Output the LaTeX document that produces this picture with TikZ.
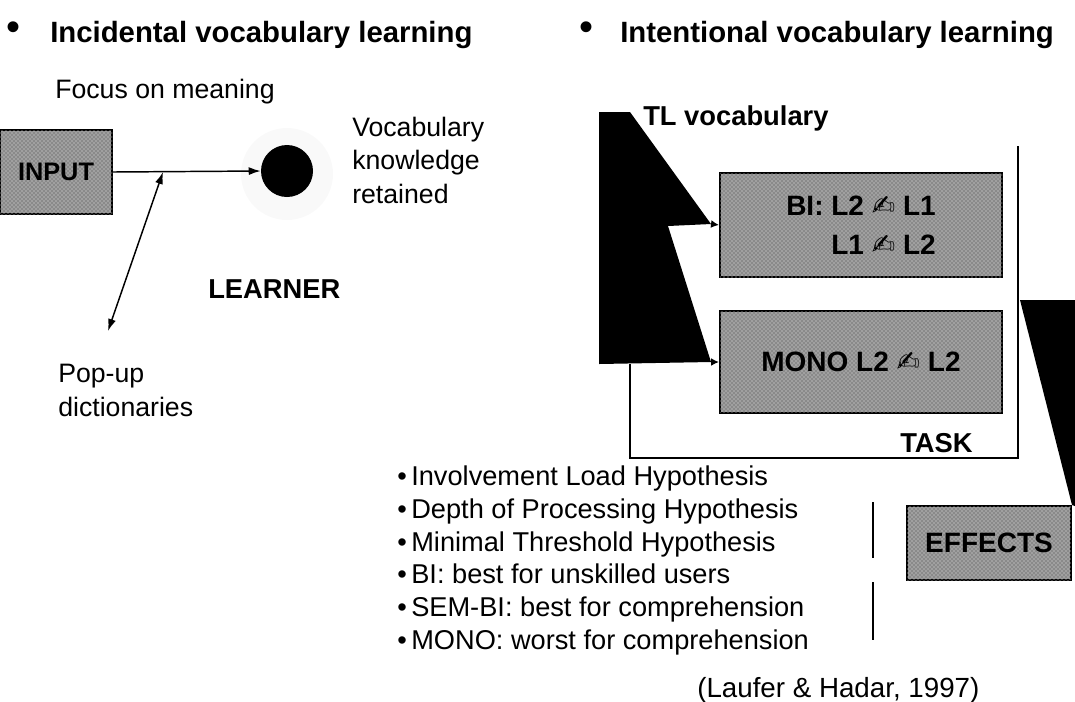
\documentclass[tikz,border=0pt]{standalone}
\usepackage{fontspec}
\setmainfont{Liberation Sans}
\newfontfamily\symbfont{DejaVu Sans}
\usepackage{tikz}
\usetikzlibrary{arrows.meta,positioning,calc,patterns}
\definecolor{texturegray}{HTML}{8A8A8A}
\newcommand{\writehand}{{\symbfont ✍}}
\tikzset{
  headline/.style={font=\fontsize{22}{26}\selectfont\bfseries,anchor=base west,inner sep=0pt},
  bigbullet/.style={font=\fontsize{30}{30}\selectfont,inner sep=0pt},
  plaintext/.style={font=\fontsize{20}{25}\selectfont,inner sep=0pt,align=left},
  boldlabel/.style={font=\fontsize{20.5}{24}\selectfont\bfseries,anchor=base west,inner sep=0pt},
  texturebox/.style={draw=black,line width=1.5pt,fill=texturegray,align=right,inner sep=0pt,
    postaction={pattern=crosshatch dots,pattern color=white!85!gray},
    font=\fontsize{21}{29}\selectfont\bfseries},
  flowarrow/.style={-{Latex[length=9pt,width=6pt]},line width=1.1pt},
  blockarrow/.style={-{Latex[length=6pt,width=6pt]},line width=1.2pt},
  frameline/.style={line width=2.2pt}
}
\begin{document}
\begin{tikzpicture}[x=0.75pt,y=-0.75pt]
  \useasboundingbox (0,0) rectangle (1075,701);
  % incidental learning
  \node[bigbullet] (incbullet) at (14,31) {\textbullet};
  \node[headline] (inctitle) at (50,42) {Incidental vocabulary learning};
  \node[plaintext,anchor=base west] (focus) at (55,98) {Focus on meaning};
  \node[texturebox,align=center,minimum width=84pt,minimum height=63pt,
    font=\fontsize{19}{20}\selectfont\bfseries] (input) at (56,172) {INPUT};
  \fill[gray!5] (287,174) circle[radius=46];
  \node[circle,fill=black,minimum size=39pt,inner sep=0pt] (learner) at (287,171) {};
  \node[boldlabel] (learnerlabel) at (208,298) {LEARNER};
  \node[plaintext,anchor=north west] (retained) at (352,117)
    {Vocabulary\\knowledge\\retained};
  \node[plaintext,anchor=north west,font=\fontsize{20}{25.5}\selectfont] (popup) at (58,364)
    {Pop-up\\dictionaries};
  \coordinate (dicttap) at (163,172);
  \coordinate (dictend) at (108,331);
  \draw[flowarrow] (input.east) -- (learner.west);
  \draw[flowarrow,{Latex[length=9pt,width=6pt]}-{Latex[length=9pt,width=6pt]}] (dicttap) -- (dictend);
  % intentional learning
  \node[bigbullet] (intbullet) at (586,31) {\textbullet};
  \node[headline] (inttitle) at (620,42) {Intentional vocabulary learning};
  \node[boldlabel] (tlvocab) at (643,125) {TL vocabulary};
  \node[texturebox,minimum width=211.5pt,minimum height=78pt] (bi) at (861,225)
    {BI: L2 \writehand{} L1\\L1 \writehand{} L2};
  \node[texturebox,minimum width=211.5pt,minimum height=76pt] (mono) at (861,362)
    {MONO L2 \writehand{} L2};
  \coordinate (tipbi) at ($(bi.west)+(-8,-1)$);
  \coordinate (tipmono) at ($(mono.west)+(-8,0)$);
  \fill (599,112) -- (630,112) -- (tipbi) -- (668,226) -- (tipmono) -- (599,364) -- cycle;
  \draw[blockarrow] (tipbi) -- (bi.west);
  \draw[blockarrow] (tipmono) -- (mono.west);
  \draw[frameline] (630,364) -- (630,458) -- (1018,458) -- (1018,146);
  \node[boldlabel] (task) at (900,452) {TASK};
  \node[texturebox,align=center,minimum width=123pt,minimum height=55.5pt] (effects) at (989,543)
    {EFFECTS};
  \fill (1020,300) -- (1075,300) -- (1075,506) -- (effects.north east) -- cycle;
  \draw[frameline] (873,502) -- (873,558);
  \draw[frameline] (873,582) -- (873,640);
  \node[plaintext,anchor=north west,font=\fontsize{20.4}{24.5}\selectfont] (hypotheses) at (397,466)
    {\textbullet\,Involvement Load Hypothesis\\
     \textbullet\,Depth of Processing Hypothesis\\
     \textbullet\,Minimal Threshold Hypothesis\\
     \textbullet\,BI: best for unskilled users\\
     \textbullet\,SEM-BI: best for comprehension\\
     \textbullet\,MONO: worst for comprehension};
  \node[plaintext,anchor=base west,font=\fontsize{20.8}{25}\selectfont] (source) at (697,697)
    {(Laufer \& Hadar, 1997)};
\end{tikzpicture}
\end{document}
